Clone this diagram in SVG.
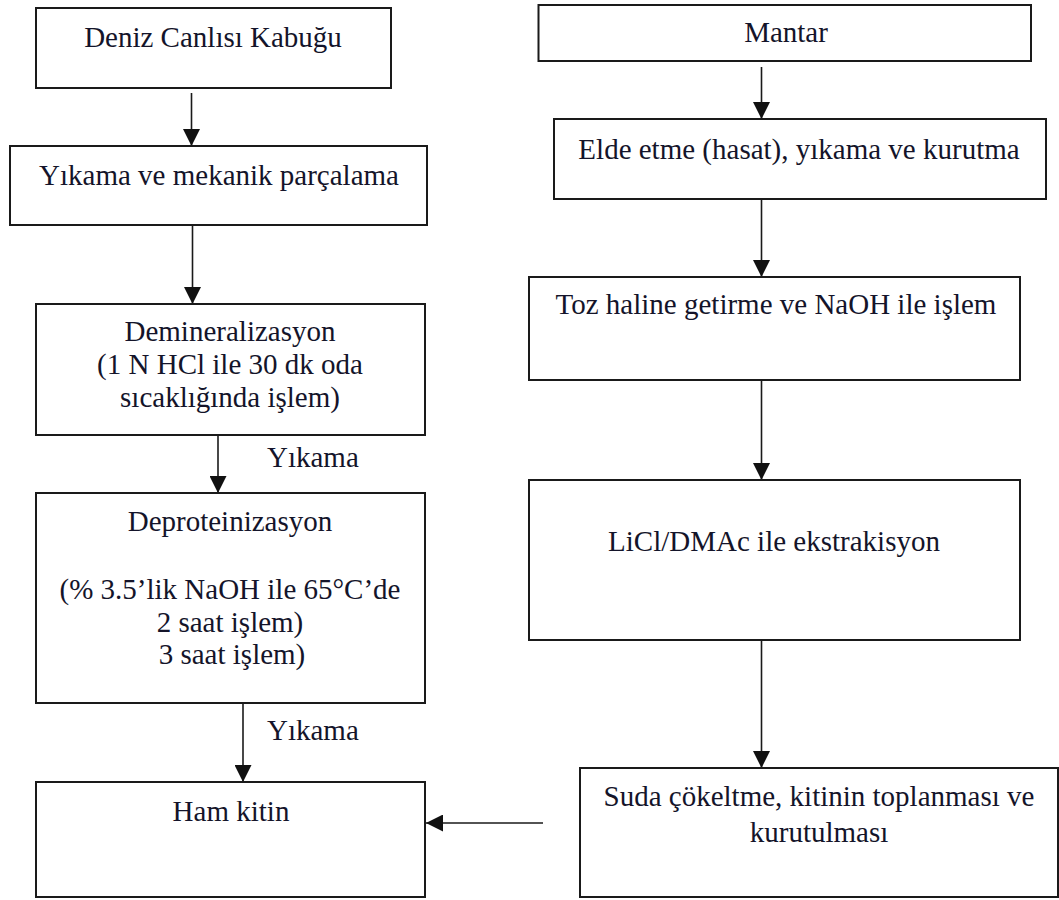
<svg xmlns="http://www.w3.org/2000/svg" width="1059" height="900" viewBox="0 0 1059 900">
<style>
.box{fill:#fff;stroke:#1a1a1a;stroke-width:2}
.t{font-family:'Liberation Serif','DejaVu Serif','Times New Roman',serif;font-size:29px;fill:#14142a;text-anchor:middle}
.tl{font-family:'Liberation Serif','DejaVu Serif','Times New Roman',serif;font-size:29px;fill:#14142a}
.c{stroke:#1a1a1a;stroke-width:1.6;fill:none;marker-end:url(#ah)}
</style>
<defs>
<marker id="ah" markerUnits="userSpaceOnUse" markerWidth="17" markerHeight="17" refX="16" refY="8" orient="auto" viewBox="0 0 16 16">
<path d="M0,0 L16,8 L0,16 z" fill="#111"/>
</marker>
</defs>
<rect width="1059" height="900" fill="#fff"/>
<g id="connectors">
<line class="c" x1="191.5" y1="93" x2="191.5" y2="146"/>
<line class="c" x1="192.5" y1="226" x2="192.5" y2="304"/>
<line class="c" x1="218" y1="436" x2="218" y2="493"/>
<line class="c" x1="243" y1="704" x2="243" y2="782"/>
<line class="c" x1="543" y1="823" x2="426" y2="823"/>
<line class="c" x1="761.5" y1="67" x2="761.5" y2="119"/>
<line class="c" x1="761.5" y1="200" x2="761.5" y2="277"/>
<line class="c" x1="761.5" y1="381" x2="761.5" y2="480"/>
<line class="c" x1="761.5" y1="641" x2="761.5" y2="768"/>
<text class="tl" x="267" y="467">Yıkama</text>
<text class="tl" x="267" y="740">Yıkama</text>
</g>
<g id="n1">
<rect class="box" x="36" y="8" width="355" height="80"/>
<text class="t" x="213" y="47">Deniz Canlısı Kabuğu</text>
</g>
<g id="n2">
<rect class="box" x="10" y="146" width="417" height="79"/>
<text class="t" x="219" y="185">Yıkama ve mekanik parçalama</text>
</g>
<g id="n3">
<rect class="box" x="36" y="304" width="389" height="131"/>
<text class="t" x="230" y="341">Demineralizasyon</text>
<text class="t" x="230" y="374">(1 N HCl ile 30 dk oda</text>
<text class="t" x="230" y="407">sıcaklığında işlem)</text>
</g>
<g id="n4">
<rect class="box" x="36" y="493" width="389" height="210"/>
<text class="t" x="230" y="531">Deproteinizasyon</text>
<text class="t" x="230" y="599">(% 3.5’lik NaOH ile 65°C’de</text>
<text class="t" x="230" y="632">2 saat işlem)</text>
<text class="t" x="232" y="664">3 saat işlem)</text>
</g>
<g id="n5">
<rect class="box" x="36" y="782" width="389" height="115"/>
<text class="t" x="231" y="821">Ham kitin</text>
</g>
<g id="r1">
<rect class="box" x="538.5" y="5" width="492.5" height="56"/>
<text class="t" x="786" y="42">Mantar</text>
</g>
<g id="r2">
<rect class="box" x="554" y="119" width="492" height="80"/>
<text class="t" x="799" y="159">Elde etme (hasat), yıkama ve kurutma</text>
</g>
<g id="r3">
<rect class="box" x="529" y="277" width="491" height="103"/>
<text class="t" x="776" y="314">Toz haline getirme ve NaOH ile işlem</text>
</g>
<g id="r4">
<rect class="box" x="529" y="480" width="491" height="160"/>
<text class="t" x="774" y="551">LiCl/DMAc ile ekstrakisyon</text>
</g>
<g id="r5">
<rect class="box" x="580" y="768" width="478" height="129"/>
<text class="t" x="819" y="806">Suda çökeltme, kitinin toplanması ve</text>
<text class="t" x="819" y="842">kurutulması</text>
</g>
</svg>
